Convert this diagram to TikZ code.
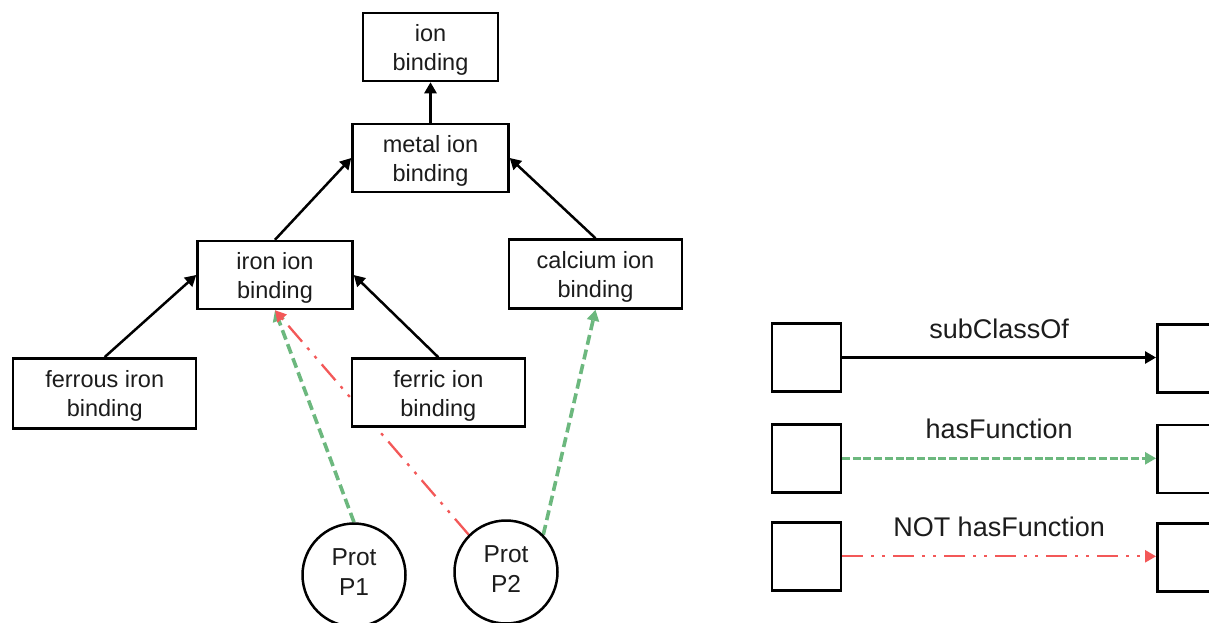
\documentclass[tikz,border=0pt]{standalone}
\usepackage{fontspec}
\setmainfont{Liberation Sans}
\usetikzlibrary{arrows.meta}
\pgfdeclarelayer{background}
\pgfsetlayers{background,main}
\definecolor{fnGreen}{RGB}{108,184,126}
\definecolor{fnRed}{RGB}{243,88,88}
\definecolor{txt}{RGB}{28,28,28}

\begin{document}
\begin{tikzpicture}[x=1pt,y=-1pt,
  termtext/.style={text=txt, align=center, inner sep=0pt,
    font=\fontsize{23.5}{29}\selectfont},
  term/.style={draw, line width=2.5pt, fill=white, inner sep=0pt,
    minimum height=68pt,
    label={[termtext, yshift=-3pt]center:#1}},
  prot/.style={circle, draw, line width=2.5pt, fill=white, inner sep=0pt,
    minimum size=103pt,
    label={[termtext, font=\fontsize{24.5}{30}\selectfont, yshift=3pt]center:#1}},
  keybox/.style={draw, line width=2.5pt, fill=white, minimum width=69pt,
    minimum height=68pt, inner sep=0pt},
  keylabel/.style={text=txt, font=\fontsize{27}{32}\selectfont, yshift=29pt},
  tip/.style={-{Triangle[length=11pt,width=12pt]}},
  isa/.style={tip, line width=2.5pt},
  hasfn/.style={tip, line width=3.6pt, fnGreen, dash pattern=on 10pt off 5pt},
  keyhasfn/.style={tip, line width=2.4pt, fnGreen, dash pattern=on 8pt off 2.7pt},
  notfn/.style={tip, line width=2.3pt, fnRed,
    dash pattern=on 21pt off 8pt on 3pt off 8pt on 3pt off 8pt},
]
\clip (0,0) rectangle (1209,622);

% class hierarchy
\node[term={ion\\binding}, minimum width=135pt] (ion) at (430.5,47) {};
\node[term={metal ion\\binding}, minimum width=156pt] (metal) at (430.5,158) {};
\node[term={iron ion\\binding}, minimum width=155pt] (iron) at (275,275) {};
\node[term={calcium ion\\binding}, minimum width=173pt, minimum height=69pt] (calcium) at (595.5,274) {};
\node[term={ferrous iron\\binding}, minimum width=183pt, minimum height=70pt] (ferrous) at (104.7,393.3) {};
\node[term={ferric ion\\binding}, minimum width=173pt] (ferric) at (438.3,392.5) {};

% proteins
\node[prot={Prot\\P1}] (p1) at (354,575) {};
\node[prot={Prot\\P2}] (p2) at (506,572) {};

% legend
\node[keybox] (ka1) at (806.3,357.5) {};
\node[keybox] (kb1) at (1191.8,358.5) {};
\node[keybox] (ka2) at (806.3,458.3) {};
\node[keybox] (kb2) at (1191.8,458.8) {};
\node[keybox] (ka3) at (806.3,556.3) {};
\node[keybox] (kb3) at (1191.8,557.5) {};

\begin{pgfonlayer}{background}
  \fill[white] (0,0) rectangle (1209,622);

  \draw[isa] (metal.north) -- (ion.south);
  \draw[isa] (iron.north) -- (metal.west);
  \draw[isa] (calcium.north) -- (metal.east);
  \draw[isa] (ferrous.north) -- (iron.west);
  \draw[isa] (ferric.north) -- (iron.east);

  \draw[hasfn] (p1.north) -- (iron.south);
  \draw[notfn] (p2.north west) -- (iron.south);
  \draw[hasfn] (p2.north east) -- (calcium.south);

  \draw[isa] (ka1.east) -- (kb1.west |- ka1.east)
    node[keylabel, midway] {subClassOf};
  \draw[keyhasfn] (ka2.east) -- (kb2.west |- ka2.east)
    node[keylabel, midway] {hasFunction};
  \draw[notfn] (ka3.east) -- (kb3.west |- ka3.east)
    node[keylabel, midway] {NOT hasFunction};
\end{pgfonlayer}
\end{tikzpicture}
\end{document}
